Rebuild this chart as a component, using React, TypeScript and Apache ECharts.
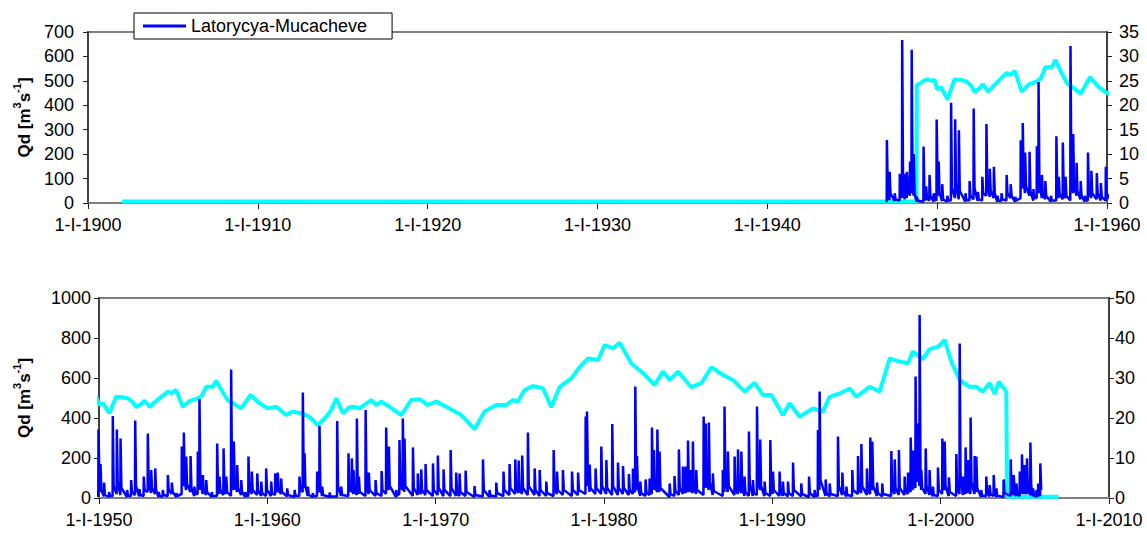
import React, { useEffect, useRef } from 'react';
import * as echarts from 'echarts';

const SERIES_NAME = 'Latorycya-Mucacheve';
const FONT = '"Liberation Sans", Arial, Helvetica, sans-serif';

// x ranges (decimal years) and tick steps
const TOP_YEARS = [1900, 1960];
const BOTTOM_YEARS = [1950, 2010];
const YEAR_STEP = 10;
// y ranges: [left max, left step, right max, right step]
const TOP_Y = [700, 100, 35, 5];
const BOTTOM_Y = [1000, 200, 50, 10];

// Daily discharge events: [year, low before, peak, value after] (m3/s)
const dischargeEvents: [number, number, number, number][] = [
  [1947.04, 3, 258, 60], [1947.2, 12, 128, 40], [1947.5, 8, 40, 15], [1947.8, 10, 120, 60],
  [1947.94, 20, 667, 90], [1948.1, 15, 120, 50], [1948.22, 20, 128, 60], [1948.4, 30, 170, 80],
  [1948.5, 40, 627, 100], [1948.62, 30, 200, 40], [1948.8, 5, 25, 10], [1949.2, 5, 231, 40],
  [1949.35, 10, 68, 20], [1949.55, 10, 115, 30], [1949.8, 5, 40, 15], [1949.97, 10, 342, 110],
  [1950.09, 30, 170, 40], [1950.3, 8, 77, 15], [1950.6, 5, 30, 10], [1950.82, 10, 410, 60],
  [1951.06, 20, 343, 80], [1951.28, 15, 298, 50], [1951.67, 5, 40, 12], [1951.91, 10, 90, 30],
  [1952.15, 15, 387, 60], [1952.4, 8, 45, 15], [1952.66, 10, 107, 40], [1952.9, 30, 323, 80],
  [1953.1, 25, 140, 50], [1953.34, 20, 148, 40], [1953.55, 5, 30, 10], [1953.79, 8, 40, 15],
  [1954.09, 10, 115, 40], [1954.33, 20, 77, 30], [1954.6, 5, 25, 10], [1954.92, 20, 257, 80],
  [1955.04, 60, 327, 100], [1955.18, 40, 207, 70], [1955.44, 30, 210, 50], [1955.67, 10, 57, 20],
  [1955.87, 20, 232, 60], [1955.97, 40, 495, 90], [1956.17, 20, 115, 40], [1956.37, 15, 90, 30],
  [1956.7, 5, 30, 10], [1957.02, 10, 273, 60], [1957.16, 20, 107, 40], [1957.4, 15, 248, 50],
  [1957.56, 20, 107, 30], [1957.85, 10, 643, 120], [1958.01, 40, 282, 80], [1958.21, 30, 165, 50],
  [1958.45, 15, 90, 30], [1958.7, 5, 30, 10], [1958.88, 10, 207, 50], [1959.08, 20, 132, 40],
  [1959.4, 15, 123, 40], [1959.64, 10, 82, 25], [1959.93, 10, 148, 40], [1960.23, 10, 82, 25],
  [1960.47, 15, 123, 40], [1960.62, 30, 127, 40], [1960.82, 20, 98, 30], [1961.18, 8, 48, 15],
  [1961.62, 5, 40, 12], [1961.91, 10, 107, 40], [1962.11, 30, 527, 100], [1962.21, 50, 223, 60],
  [1962.41, 10, 57, 15], [1962.7, 5, 25, 8], [1962.96, 10, 132, 40], [1963.1, 30, 360, 60],
  [1963.26, 10, 57, 15], [1963.7, 5, 27, 8], [1964.15, 8, 385, 60], [1964.39, 10, 57, 15],
  [1964.82, 10, 223, 50], [1965.02, 30, 198, 50], [1965.12, 20, 140, 40], [1965.32, 15, 398, 60],
  [1965.44, 20, 107, 30], [1965.84, 10, 440, 60], [1966.03, 20, 127, 40], [1966.43, 10, 90, 25],
  [1966.79, 10, 135, 40], [1967.06, 20, 353, 90], [1967.22, 40, 257, 60], [1967.66, 5, 40, 12],
  [1967.85, 20, 290, 60], [1968.05, 40, 398, 90], [1968.15, 30, 298, 60], [1968.65, 10, 253, 50],
  [1968.94, 15, 123, 40], [1969.14, 20, 143, 40], [1969.4, 15, 170, 40], [1969.84, 10, 173, 40],
  [1970.13, 15, 212, 50], [1970.47, 10, 143, 40], [1970.89, 10, 240, 50], [1971.22, 10, 127, 30],
  [1971.42, 10, 123, 30], [1971.78, 10, 137, 30], [1972.31, 5, 60, 15], [1972.81, 8, 193, 40],
  [1973.2, 5, 40, 12], [1973.6, 8, 77, 25], [1974.03, 10, 132, 40], [1974.39, 15, 170, 50],
  [1974.73, 20, 193, 50], [1974.93, 25, 187, 50], [1975.14, 20, 212, 50], [1975.48, 15, 327, 60],
  [1975.88, 15, 148, 40], [1976.18, 10, 140, 40], [1976.57, 10, 82, 25], [1977.01, 10, 240, 50],
  [1977.21, 20, 132, 40], [1977.56, 15, 140, 40], [1978.1, 10, 132, 40], [1978.46, 15, 127, 40],
  [1978.91, 20, 407, 100], [1978.99, 60, 432, 120], [1979.15, 30, 167, 50], [1979.5, 20, 148, 50],
  [1979.84, 20, 257, 60], [1980.14, 20, 190, 50], [1980.49, 15, 370, 60], [1980.83, 15, 177, 50],
  [1981.13, 20, 160, 50], [1981.48, 15, 120, 40], [1981.72, 20, 148, 40], [1981.86, 30, 557, 110],
  [1981.96, 40, 210, 50], [1982.16, 10, 82, 25], [1982.47, 10, 93, 30], [1982.71, 15, 98, 30],
  [1982.85, 20, 352, 90], [1982.97, 40, 240, 60], [1983.17, 30, 343, 80], [1983.3, 30, 232, 50],
  [1983.9, 5, 73, 20], [1984.19, 10, 110, 35], [1984.45, 15, 243, 50], [1984.69, 20, 157, 50],
  [1984.85, 25, 157, 50], [1984.99, 30, 287, 70], [1985.13, 30, 140, 40], [1985.28, 25, 282, 60],
  [1985.48, 20, 140, 40], [1985.92, 15, 407, 90], [1986.04, 50, 373, 90], [1986.23, 40, 377, 80],
  [1986.47, 15, 123, 35], [1987.06, 10, 140, 40], [1987.16, 30, 457, 90], [1987.36, 30, 232, 60],
  [1987.76, 15, 207, 50], [1987.96, 20, 243, 60], [1988.16, 25, 232, 50], [1988.35, 10, 107, 30],
  [1988.61, 10, 332, 70], [1988.85, 10, 90, 25], [1989.09, 15, 457, 90], [1989.28, 40, 293, 60],
  [1989.54, 10, 82, 25], [1989.88, 10, 290, 60], [1990.04, 20, 132, 40], [1990.43, 10, 132, 35],
  [1990.63, 10, 82, 25], [1990.93, 8, 82, 25], [1991.23, 10, 177, 40], [1991.72, 8, 73, 20],
  [1992.18, 5, 107, 25], [1992.51, 5, 40, 12], [1992.71, 10, 340, 60], [1992.81, 40, 532, 90],
  [1993.17, 10, 93, 25], [1993.41, 8, 73, 20], [1993.9, 10, 307, 60], [1994.16, 15, 127, 35],
  [1994.4, 8, 57, 15], [1994.75, 10, 140, 40], [1995.09, 20, 210, 50], [1995.29, 25, 270, 60],
  [1995.62, 15, 148, 40], [1995.82, 20, 302, 60], [1995.94, 40, 282, 60], [1996.22, 10, 77, 25],
  [1996.53, 8, 73, 20], [1997.07, 10, 235, 50], [1997.27, 20, 193, 50], [1997.52, 15, 240, 50],
  [1997.86, 15, 107, 35], [1998.06, 20, 127, 40], [1998.22, 30, 303, 80], [1998.35, 40, 237, 70],
  [1998.51, 50, 607, 150], [1998.65, 80, 373, 120], [1998.75, 60, 915, 150], [1998.85, 40, 140, 50],
  [1999.11, 20, 248, 60], [1999.34, 15, 140, 40], [1999.54, 8, 57, 15], [1999.84, 10, 152, 40],
  [2000.1, 20, 298, 70], [2000.24, 40, 282, 60], [2000.49, 10, 103, 30], [2000.93, 10, 220, 50],
  [2001.13, 20, 773, 120], [2001.33, 15, 107, 35], [2001.48, 20, 253, 60], [2001.62, 25, 190, 50],
  [2001.78, 20, 403, 80], [2002.02, 20, 210, 50], [2002.12, 30, 207, 50], [2002.41, 5, 40, 12],
  [2002.71, 10, 107, 30], [2002.91, 8, 65, 20], [2003.15, 10, 115, 30], [2003.31, 5, 48, 12],
  [2003.74, 5, 93, 25], [2004.16, 10, 193, 50], [2004.34, 15, 115, 35], [2004.5, 10, 73, 20],
  [2004.7, 10, 132, 40], [2004.83, 20, 218, 50], [2004.99, 20, 165, 40], [2005.13, 20, 198, 50],
  [2005.33, 15, 277, 60], [2005.49, 8, 48, 15], [2005.69, 5, 40, 12], [2005.79, 8, 73, 20],
  [2005.92, 10, 173, 40],
];

// Running mean: [year, value] (right axis)
const runningMean: [number, number][] = [
  [1902.0, 0.3], [1948.78, 0.3], [1948.8, 24.2], [1949.0, 24.5], [1949.2, 25.0], [1949.4, 25.3],
  [1949.7, 25.0], [1949.85, 25.2], [1950.0, 23.3], [1950.23, 23.7], [1950.62, 21.2], [1951.02, 25.3],
  [1951.4, 25.2], [1951.71, 24.9], [1952.0, 24.0], [1952.21, 22.7], [1952.5, 23.5], [1952.7, 24.3],
  [1953.0, 22.8], [1953.5, 24.6], [1954.09, 26.6], [1954.3, 26.2], [1954.58, 27.0], [1954.98, 22.8],
  [1955.4, 24.3], [1955.87, 24.9], [1956.1, 25.5], [1956.37, 27.8], [1956.76, 27.8], [1956.96, 29.3],
  [1957.3, 26.8], [1957.65, 24.5], [1958.0, 23.6], [1958.45, 22.4], [1959.0, 25.75], [1959.5, 23.8],
  [1960.03, 22.4], [1960.53, 22.8], [1961.12, 20.75], [1961.5, 21.6], [1962.01, 21.2], [1962.5, 20.3],
  [1963.0, 18.25], [1963.5, 20.3], [1963.8, 22.0], [1964.1, 24.9], [1964.49, 21.2], [1964.88, 22.7],
  [1965.18, 22.8], [1965.48, 22.4], [1966.17, 24.5], [1966.47, 23.25], [1966.77, 24.1], [1967.26, 22.8],
  [1967.96, 20.75], [1968.55, 24.5], [1969.04, 24.7], [1969.54, 23.25], [1970.03, 24.1], [1970.63, 22.8],
  [1971.52, 20.75], [1972.31, 17.2], [1972.9, 21.6], [1973.6, 23.25], [1974.19, 23.25], [1974.59, 24.5],
  [1974.89, 24.1], [1975.28, 27.0], [1975.78, 28.0], [1976.38, 27.4], [1976.87, 22.7], [1977.37, 27.8],
  [1978.06, 29.9], [1978.56, 32.8], [1979.05, 34.9], [1979.65, 34.5], [1980.04, 38.25], [1980.53, 37.4],
  [1980.93, 38.8], [1981.62, 33.7], [1982.32, 31.2], [1983.01, 28.25], [1983.5, 31.6], [1983.9, 29.5],
  [1984.4, 31.6], [1985.19, 27.7], [1985.78, 28.7], [1986.38, 32.7], [1987.07, 30.75], [1987.66, 29.5],
  [1988.36, 26.6], [1988.95, 28.8], [1989.44, 25.75], [1989.94, 25.75], [1990.63, 20.75], [1991.03, 23.7],
  [1991.62, 20.3], [1992.41, 22.4], [1993.01, 21.6], [1993.4, 25.3], [1994.1, 26.3], [1994.6, 27.4],
  [1994.99, 25.3], [1995.78, 27.8], [1996.38, 26.6], [1996.97, 34.9], [1997.57, 34.1], [1998.06, 33.7],
  [1998.35, 36.6], [1998.95, 34.7], [1999.34, 37.2], [1999.84, 37.8], [2000.24, 39.5], [2000.63, 34.1],
  [2001.13, 29.5], [2001.72, 27.8], [2002.12, 27.8], [2002.51, 26.6], [2002.91, 28.7], [2003.21, 26.0],
  [2003.46, 29.1], [2003.9, 26.6], [2003.94, 0.3], [2007.0, 0.3],
];

const dischargePoints: [number, number][] = dischargeEvents.flatMap(([t, lo, pk, after]) => [
  [t - 0.012, lo] as [number, number],
  [t, pk] as [number, number],
  [t + 0.05, after] as [number, number],
]);

const yName = '{b|Qd [m}{s|3}{b|s}{s|-1}{b|]}';
const nameRich = {
  b: { fontFamily: FONT, fontWeight: 'bold', fontSize: 17, color: '#000', lineHeight: 22, verticalAlign: 'bottom' },
  s: { fontFamily: FONT, fontWeight: 'bold', fontSize: 11, color: '#000', verticalAlign: 'top' },
};

function xAxisFor(grid: number, range: number[]) {
  return {
    type: 'value', gridIndex: grid, min: range[0], max: range[1], interval: YEAR_STEP,
    axisLine: { show: true, onZero: false, lineStyle: { color: '#808080', width: 2 } },
    axisTick: { show: true, length: 6, lineStyle: { color: '#222', width: 1 } },
    axisLabel: { fontFamily: FONT, fontSize: 18, color: '#000', margin: 13, formatter: (v: number) => '1-I-' + v },
    splitLine: { show: false },
  };
}

function yAxisFor(grid: number, max: number, step: number, side: 'left' | 'right', margin: number, nameGap?: number) {
  return {
    type: 'value', gridIndex: grid, min: 0, max, interval: step, position: side,
    name: side === 'left' ? yName : '', nameLocation: 'middle', nameGap: nameGap ?? 0, nameRotate: 90,
    nameTextStyle: { rich: nameRich },
    axisLine: { show: true, lineStyle: { color: '#404040', width: 2 } },
    axisTick: { show: true, length: 5, lineStyle: { color: '#222', width: 1 } },
    axisLabel: { fontFamily: FONT, fontSize: 18, color: '#000', margin, formatter: (v: number) => String(v) },
    splitLine: { show: false },
  };
}

function meanSeries(x: number, y: number) {
  return {
    type: 'line', name: 'mean', xAxisIndex: x, yAxisIndex: y, data: runningMean,
    symbol: 'none', silent: true, z: 2,
    lineStyle: { color: '#00FFFF', width: 4, join: 'bevel' }, itemStyle: { color: '#00FFFF' },
  };
}

function dischargeSeries(x: number, y: number) {
  return {
    type: 'line', name: SERIES_NAME, xAxisIndex: x, yAxisIndex: y, data: dischargePoints,
    symbol: 'none', silent: true, z: 3,
    lineStyle: { color: '#0000FF', width: 2.5, join: 'bevel' }, itemStyle: { color: '#0000FF' },
  };
}

export default function App() {
  const ref = useRef<HTMLDivElement>(null);
  useEffect(() => {
    if (!ref.current) return;
    const chart = echarts.init(ref.current, undefined, { renderer: 'svg' });
    chart.setOption({
      animation: false,
      backgroundColor: '#fff',
      grid: [
        { left: 88, top: 32, width: 1019, height: 171, show: true, borderColor: '#808080', borderWidth: 2 },
        { left: 99, top: 298, width: 1010, height: 200, show: true, borderColor: '#808080', borderWidth: 2 },
      ],
      legend: {
        left: 134, top: 13, selectedMode: false,
        data: [{ name: SERIES_NAME, icon: 'rect' }],
        itemWidth: 43, itemHeight: 3,
        backgroundColor: '#fff', borderColor: '#000', borderWidth: 1, borderRadius: 0,
        padding: [4, 25, 4, 9],
        textStyle: { fontFamily: FONT, fontSize: 18, color: '#000' },
      },
      xAxis: [xAxisFor(0, TOP_YEARS), xAxisFor(1, BOTTOM_YEARS)],
      yAxis: [
        yAxisFor(0, TOP_Y[0], TOP_Y[1], 'left', 14, 53),
        yAxisFor(0, TOP_Y[2], TOP_Y[3], 'right', 12),
        yAxisFor(1, BOTTOM_Y[0], BOTTOM_Y[1], 'left', 8, 66),
        yAxisFor(1, BOTTOM_Y[2], BOTTOM_Y[3], 'right', 6),
      ],
      series: [
        meanSeries(0, 1), dischargeSeries(0, 0),
        meanSeries(1, 3), dischargeSeries(1, 2),
      ],
    });
    return () => chart.dispose();
  }, []);
  return <div ref={ref} style={{ position: 'absolute', left: 0, top: 0, width: 1147, height: 535 }} />;
}
